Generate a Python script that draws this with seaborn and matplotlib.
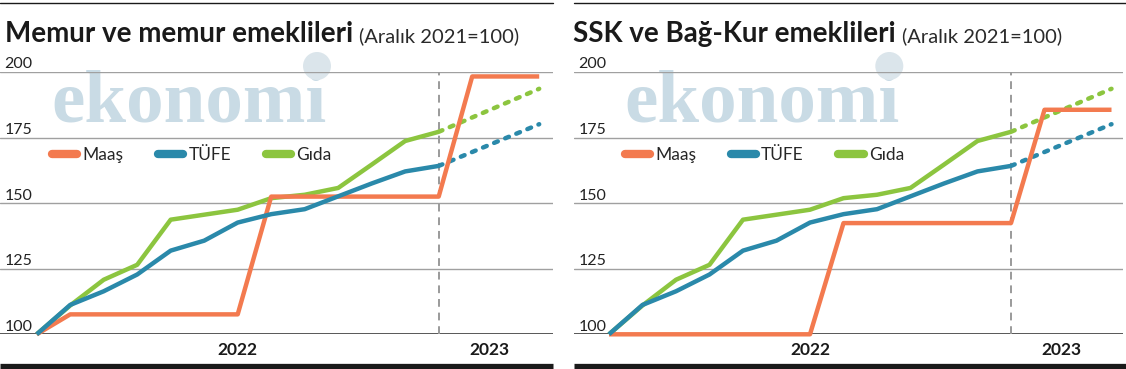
import matplotlib
matplotlib.use("Agg")
import matplotlib.pyplot as plt
import matplotlib.transforms as mtransforms
from matplotlib.lines import Line2D
from matplotlib.patches import Circle
import pandas as pd
import seaborn as sns

# months counted from Aralik 2021 (0) -> Aralik 2022 (12) -> Mart 2023 (15)
ay = [0, 1, 2, 3, 4, 5, 6, 7, 8, 9, 10, 11, 12, 13, 14, 15]
ay_gercek = [0, 1, 2, 3, 4, 5, 6, 7, 8, 9, 10, 11, 12]
ay_tahmin = [12, 15]

tufe = [100, 111.2, 116.4, 122.8, 131.9, 135.7, 142.6, 145.8, 147.7, 152.6, 157.5, 162.1, 164.2]
gida = [100, 111.0, 120.8, 126.5, 143.7, 145.6, 147.5, 151.9, 153.2, 155.8, 164.7, 173.7, 177.2]
tufe_tahmin = [164.2, 180.1]
gida_tahmin = [177.2, 193.6]

maas_memur = [100, 107.6, 107.6, 107.6, 107.6, 107.6, 107.6, 152.5, 152.5, 152.5, 152.5, 152.5, 152.5,
              198.3, 198.3, 198.3]
maas_ssk = [100, 100, 100, 100, 100, 100, 100, 142.4, 142.4, 142.4, 142.4, 142.4, 142.4,
            185.6, 185.6, 185.6]

basliklar = ["Memur ve memur emeklileri", "SSK ve Bağ-Kur emeklileri"]
alt_baslik = "(Aralık 2021=100)"
y_etiketler = [100, 125, 150, 175, 200]
yillar = ["2022", "2023"]
yil_konum = [6, 13.5]

renkler = {"Maaş": "#f37a4f", "TÜFE": "#2a89aa", "Gıda": "#8cc53f"}

sns.set_style("white")
plt.rcParams["font.family"] = ["Lato", "DejaVu Sans"]

W, H = 1126, 369
fig = plt.figure(figsize=(W / 100, H / 100), dpi=100)

# panel layout in pixels: axes left, axes right, month-0 x, title x
paneller = [
    dict(maas=maas_memur, ax_l=0, ax_r=552.5, x0=36.7, title_x=5, bar=(0, 552.5)),
    dict(maas=maas_ssk, ax_l=574, ax_r=1123, x0=609, title_x=573, bar=(574, 1126)),
]
px_ay = 33.5
y_top, y_bot = 72, 334.3

for i, p in enumerate(paneller):
    ax = fig.add_axes([p["ax_l"] / W, (H - y_bot) / H, (p["ax_r"] - p["ax_l"]) / W, (y_bot - y_top) / H])
    ax.patch.set_alpha(0)
    ax.set_xlim(-(p["x0"] - p["ax_l"]) / px_ay, (p["ax_r"] - p["x0"]) / px_ay)
    ax.set_ylim(100, 200)
    for s in ax.spines.values():
        s.set_visible(False)
    ax.set_xticks([])
    ax.set_yticks([])

    # watermark
    shift = p["x0"] - 36.7
    ax.text((51.7 + shift) / W, (H - 121.7) / H, "ekonomi", transform=fig.transFigure,
            family="Liberation Serif", weight="bold", fontsize=54, color="#c9dbe5",
            va="baseline", ha="left", zorder=0.5)
    ax.add_patch(Circle(((317 + shift) / 100, (H - 66) / 100), 0.14, transform=fig.dpi_scale_trans,
                        facecolor="#dbe5eb", edgecolor="none", zorder=0.5, clip_on=False))

    # grid
    for v in y_etiketler:
        if v == 100:
            ax.axhline(v, color="#2a2a2a", lw=1.1, zorder=1)
        else:
            ax.axhline(v, color="#a0a0a0", lw=1.0, zorder=1)
        off = mtransforms.ScaledTranslation(0, 3.5 / 100, fig.dpi_scale_trans)
        ax.text(4.5 / (p["ax_r"] - p["ax_l"]), v, str(v), transform=ax.get_yaxis_transform() + off,
                fontsize=11.5, color="#222222", va="baseline", ha="left")

    ax.axvline(12, color="#9a9a9a", lw=1.4, ls=(0, (4, 3)), zorder=1)

    tahmin = pd.concat([
        pd.DataFrame({"ay": ay_tahmin, "deger": gida_tahmin, "seri": "Gıda"}),
        pd.DataFrame({"ay": ay_tahmin, "deger": tufe_tahmin, "seri": "TÜFE"}),
    ])
    sns.lineplot(data=tahmin, x="ay", y="deger", hue="seri", palette=renkler, linewidth=3.2,
                 linestyle=(0, (0.9, 1.8)), dash_capstyle="round", legend=False, errorbar=None,
                 ax=ax, zorder=2)

    gercek = pd.concat([
        pd.DataFrame({"ay": ay_gercek, "deger": gida, "seri": "Gıda"}),
        pd.DataFrame({"ay": ay, "deger": p["maas"], "seri": "Maaş"}),
        pd.DataFrame({"ay": ay_gercek, "deger": tufe, "seri": "TÜFE"}),
    ])
    sns.lineplot(data=gercek, x="ay", y="deger", hue="seri", palette=renkler, linewidth=3.2,
                 solid_joinstyle="round", solid_capstyle="butt", legend=False, errorbar=None,
                 ax=ax, zorder=3, clip_on=False)
    ax.set_xlabel("")
    ax.set_ylabel("")

    # legend
    handles = [Line2D([0], [0], color=renkler[k], lw=6, solid_capstyle="round") for k in ["Maaş", "TÜFE", "Gıda"]]
    ax.legend(handles, ["Maaş", "TÜFE", "Gıda"], loc="center left",
              bbox_to_anchor=((p["x0"] + 15.5 - p["ax_l"]) / (p["ax_r"] - p["ax_l"]), (y_bot - 155) / (y_bot - y_top)),
              ncol=3, frameon=False, fontsize=12.5, handlelength=1.45, handletextpad=0.3,
              columnspacing=2.0, borderaxespad=0, borderpad=0)

    # year labels
    for yl, xk in zip(yillar, yil_konum):
        ax.text(xk, -0.06, yl, transform=ax.get_xaxis_transform(), ha="center", va="center",
                fontsize=12.5, weight="bold", color="#1a1a1a")

    # titles
    t = fig.text(p["title_x"] / W, (H - 41.7) / H, basliklar[i], fontsize=20, weight="bold",
                 color="#1a1a1a", va="baseline", ha="left")
    fig.canvas.draw()
    bb = t.get_window_extent()
    fig.text((bb.x1 + 6) / W, (H - 41.7) / H, alt_baslik, fontsize=14.5, weight="normal",
             color="#2a2a2a", va="baseline", ha="left")

    # rules top and bottom
    fig.add_artist(Line2D([p["bar"][0] / W, p["bar"][1] / W], [(H - 3.3) / H] * 2, lw=1.0,
                          color="#1a1a1a", transform=fig.transFigure))
    fig.add_artist(Line2D([p["bar"][0] / W, p["bar"][1] / W], [(H - 366) / H] * 2, lw=3.8,
                          color="#1a1a1a", transform=fig.transFigure, solid_capstyle="butt"))

fig.savefig("out.png", dpi=100)
